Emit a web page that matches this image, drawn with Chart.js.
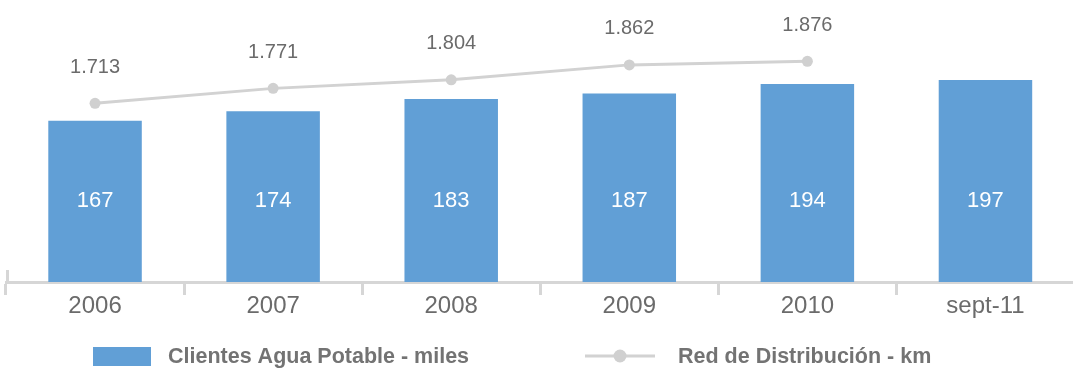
<!DOCTYPE html>
<html>
<head>
<meta charset="utf-8">
<script src="https://cdn.jsdelivr.net/npm/chart.js@4/dist/chart.umd.min.js"></script>
<style>
  html, body { margin: 0; padding: 0; background: #fff; overflow: hidden; }
  #wrap { width: 1080px; height: 368px; }
</style>
</head>
<body>
<div id="wrap"><canvas id="c" width="1080" height="368"></canvas></div>
<script>
const categories = ['2006', '2007', '2008', '2009', '2010', 'sept-11'];
const clientes = [167, 174, 183, 187, 194, 197];
const redDistribucion = [1713, 1771, 1804, 1862, 1876, null];
const seriesNames = ['Clientes Agua Potable - miles', 'Red de Distribución - km'];

const BAR_COLOR = '#619FD6';
const LINE_COLOR = '#D2D2D2';
const AXIS_COLOR = '#D6D6D6';
const TEXT_COLOR = '#6B6B6B';
const FONT = '"Liberation Sans", Arial, sans-serif';

function fmtThousands(v) {
  return String(v).replace(/\B(?=(\d{3})+(?!\d))/g, '.');
}

const labelsPlugin = {
  id: 'customLabels',
  afterDatasetsDraw(chart) {
    const ctx = chart.ctx;
    const area = chart.chartArea;
    ctx.save();
    const barMeta = chart.getDatasetMeta(0);
    ctx.font = '22px ' + FONT;
    ctx.fillStyle = '#FFFFFF';
    ctx.textAlign = 'center';
    ctx.textBaseline = 'middle';
    barMeta.data.forEach((el, i) => {
      ctx.fillText(String(chart.data.datasets[0].data[i]), el.x, area.bottom - 81);
    });
    const lineMeta = chart.getDatasetMeta(1);
    ctx.font = '20px ' + FONT;
    ctx.fillStyle = TEXT_COLOR;
    lineMeta.data.forEach((el, i) => {
      const v = chart.data.datasets[1].data[i];
      if (v === null || v === undefined) return;
      ctx.fillText(fmtThousands(v), el.x, el.y - 36);
    });
    ctx.strokeStyle = AXIS_COLOR;
    ctx.lineWidth = 3;
    ctx.beginPath();
    ctx.moveTo(area.left + 1.5, area.bottom - 12);
    ctx.lineTo(area.left + 1.5, area.bottom + 2);
    ctx.stroke();
    ctx.restore();
  },
  afterDraw(chart) {
    const ctx = chart.ctx;
    const ds = chart.data.datasets;
    const cy = 356;
    ctx.save();
    ctx.font = 'bold 21.5px ' + FONT;
    ctx.textBaseline = 'middle';
    ctx.textAlign = 'left';
    ctx.fillStyle = ds[0].backgroundColor;
    ctx.fillRect(93, cy - 9, 58, 19);
    ctx.fillStyle = '#737373';
    ctx.fillText(ds[0].label, 168, cy + 1);
    ctx.strokeStyle = ds[1].borderColor;
    ctx.lineWidth = 3;
    ctx.beginPath();
    ctx.moveTo(585, cy);
    ctx.lineTo(655, cy);
    ctx.stroke();
    ctx.fillStyle = ds[1].pointBackgroundColor;
    ctx.beginPath();
    ctx.arc(620, cy, 6.5, 0, Math.PI * 2);
    ctx.fill();
    ctx.fillStyle = '#737373';
    ctx.fillText(ds[1].label, 678, cy + 1);
    ctx.restore();
  }
};

new Chart(document.getElementById('c'), {
  type: 'bar',
  data: {
    labels: categories,
    datasets: [
      {
        type: 'bar',
        label: seriesNames[0],
        data: clientes,
        backgroundColor: BAR_COLOR,
        borderWidth: 0,
        barPercentage: 0.525,
        categoryPercentage: 1,
        yAxisID: 'y',
        order: 2
      },
      {
        type: 'line',
        label: seriesNames[1],
        data: redDistribucion,
        borderColor: LINE_COLOR,
        borderWidth: 3,
        pointRadius: 5.5,
        pointHoverRadius: 5.5,
        pointBackgroundColor: '#D0D0D0',
        pointBorderWidth: 0,
        tension: 0,
        yAxisID: 'y2',
        order: 1
      }
    ]
  },
  options: {
    responsive: false,
    animation: false,
    layout: { padding: { left: 6, right: 0, top: -3, bottom: 0 } },
    plugins: {
      legend: { display: false },
      tooltip: { enabled: false },
      title: { display: false }
    },
    scales: {
      x: {
        offset: true,
        grid: {
          offset: true,
          drawOnChartArea: false,
          drawTicks: true,
          tickLength: 13,
          tickWidth: 3,
          tickColor: AXIS_COLOR,
          color: AXIS_COLOR
        },
        border: { display: true, color: AXIS_COLOR, width: 3 },
        ticks: {
          color: TEXT_COLOR,
          font: { family: FONT, size: 24 },
          padding: -3,
          maxRotation: 0
        },
        afterFit(scale) { scale.height = 86; }
      },
      y: {
        display: false,
        min: 48,
        max: 252
      },
      y2: {
        display: false,
        min: 1021,
        max: 2092
      }
    }
  },
  plugins: [labelsPlugin]
});
</script>
</body>
</html>
